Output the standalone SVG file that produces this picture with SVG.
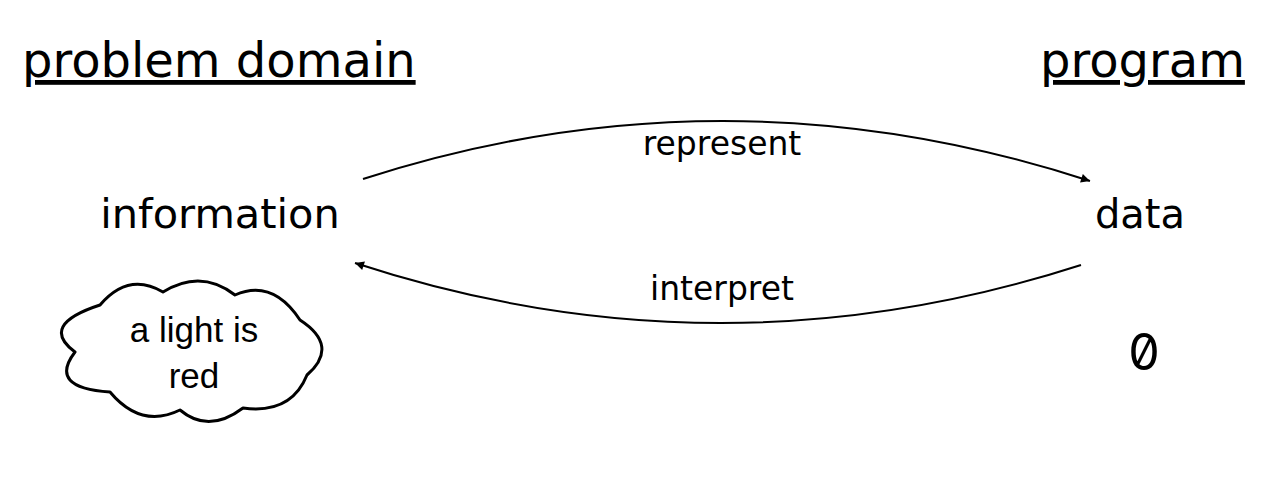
<svg xmlns="http://www.w3.org/2000/svg" width="1278" height="477" viewBox="0 0 1278 477">
<style>
.t{font-family:"DejaVu Sans",sans-serif;fill:#000}
.h{font-size:48px;text-decoration:underline}
.n{font-size:40px}
.l{font-size:33px}
.c{font-family:"Liberation Sans",Arial,sans-serif;font-size:35px;fill:#000}
.e{fill:none;stroke:#000;stroke-width:2}
</style>
<defs>
<marker id="ah" viewBox="0 0 10 10" refX="10" refY="5" markerWidth="12" markerHeight="9" markerUnits="userSpaceOnUse" orient="auto">
<path d="M0,0 L10,5 L0,10 z" fill="#000"/>
</marker>
</defs>
<rect width="1278" height="477" fill="#fff"/>
<g id="title-left"><text class="t h" x="22" y="77">problem domain</text></g>
<g id="title-right"><text class="t h" x="1040" y="77">program</text></g>
<g id="information"><text class="t n" x="220" y="228" text-anchor="middle" style="font-size:41.5px">information</text></g>
<g id="data"><text class="t n" x="1140" y="228" text-anchor="middle">data</text></g>
<g id="zero"><text x="1144" y="370" text-anchor="middle" style="font-family:Inter,'DejaVu Sans Mono',monospace;font-size:50px;font-variant-numeric:slashed-zero;font-feature-settings:'zero' 1;fill:#000">0</text></g>
<g id="cloud">
<path d="M100,305 Q128.5,271.5 163,292 Q201,268.5 235,295 Q272.5,278.5 300,320 Q340,346 307,375 Q291,414.5 243,408 Q208.5,434 180,410 Q141,429 110,392 Q47.5,388 75,352 Q38.5,325 100,305 Z" fill="#fff" stroke="#000" stroke-width="3" stroke-linejoin="round"/>
<text class="c" x="194" y="342" text-anchor="middle">a light is</text>
<text class="c" x="194" y="388" text-anchor="middle">red</text>
</g>
<g id="connectors">
<path class="e" d="M363,179 Q725,62 1090,181" marker-end="url(#ah)"/>
<text class="t l" x="722" y="155" text-anchor="middle">represent</text>
<path class="e" d="M1081,265 Q718,382 355,263" marker-end="url(#ah)"/>
<text class="t l" x="722" y="300" text-anchor="middle">interpret</text>
</g>
</svg>
